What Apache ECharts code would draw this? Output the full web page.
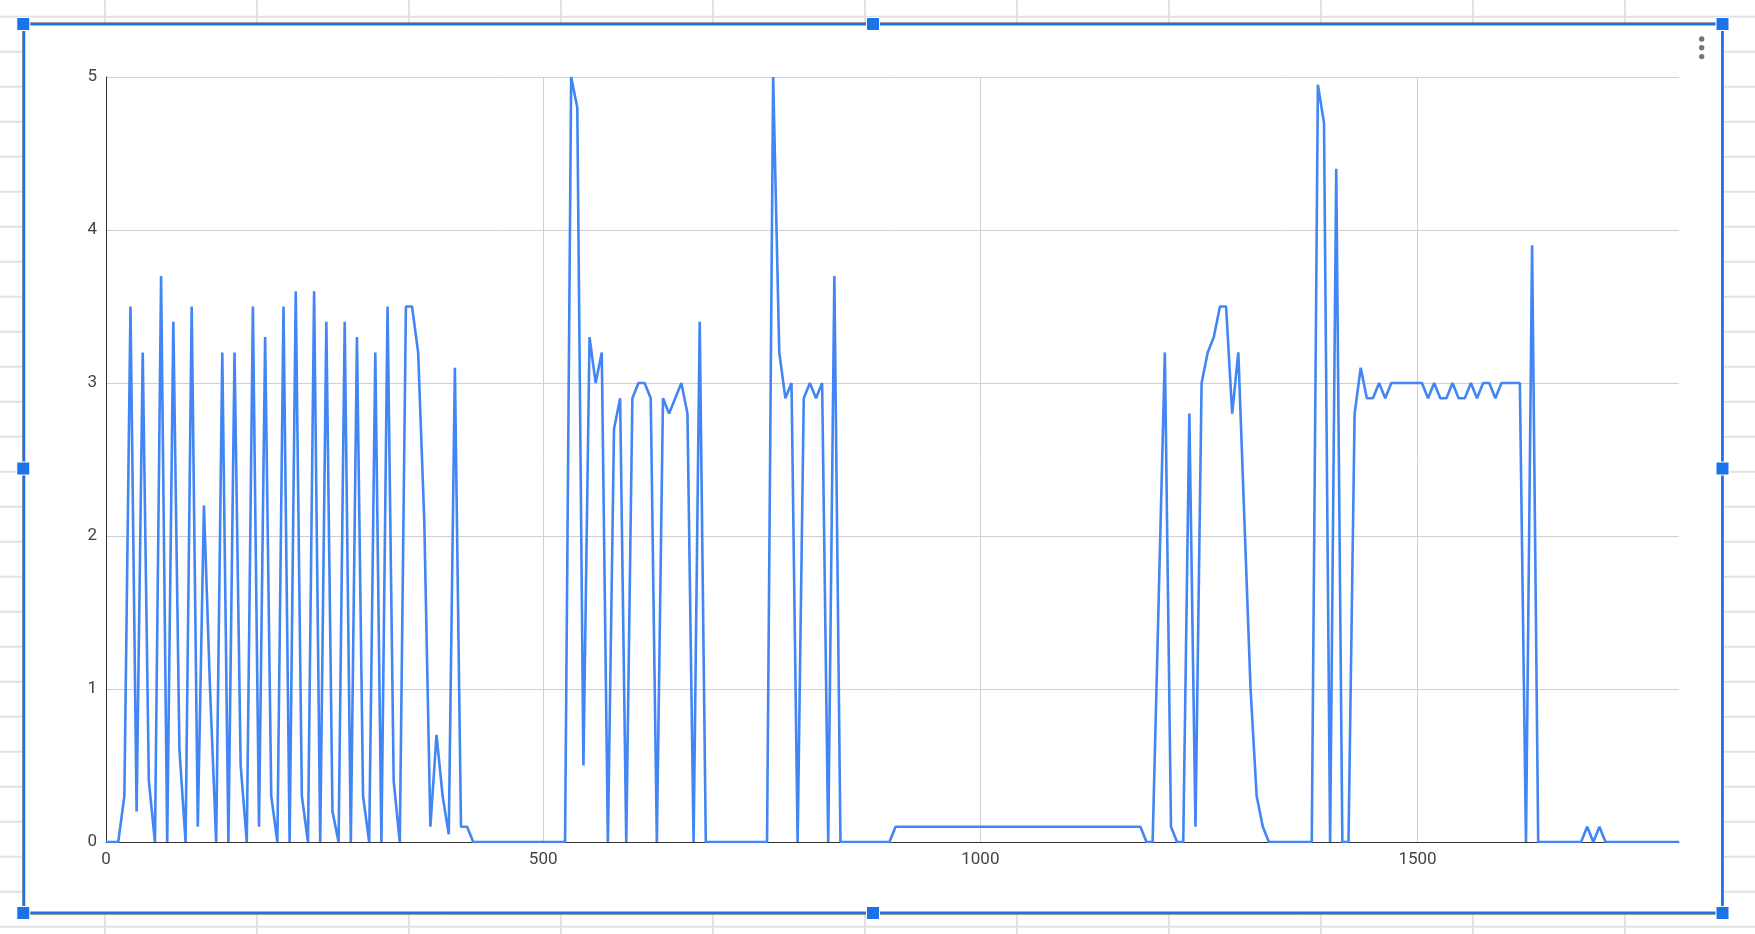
<!DOCTYPE html>
<html>
<head>
<meta charset="utf-8">
<script src="https://cdn.jsdelivr.net/npm/echarts@6/dist/echarts.min.js"></script>
<style>
html,body{margin:0;padding:0;background:#fff;}
#chart{width:1755px;height:934px;}
</style>
</head>
<body>
<div id="chart"></div>
<script>
const xValues = [
  0,7,14,21,28,35,42,49,56,63,
  70,77,84,91,98,105,112,119,126,133,
  140,147,154,161,168,175,182,189,196,203,
  210,217,224,231,238,245,252,259,266,273,
  280,287,294,301,308,315,322,329,336,343,
  350,357,364,371,378,385,392,399,406,413,
  420,427,434,441,448,455,462,469,476,483,
  490,497,504,511,518,525,532,539,546,553,
  560,567,574,581,588,595,602,609,616,623,
  630,637,644,651,658,665,672,679,686,693,
  700,707,714,721,728,735,742,749,756,763,
  770,777,784,791,798,805,812,819,826,833,
  840,847,854,861,868,875,882,889,896,903,
  910,917,924,931,938,945,952,959,966,973,
  980,987,994,1001,1008,1015,1022,1029,1036,1043,
  1050,1057,1064,1071,1078,1085,1092,1099,1106,1113,
  1120,1127,1134,1141,1148,1155,1162,1169,1176,1183,
  1190,1197,1204,1211,1218,1225,1232,1239,1246,1253,
  1260,1267,1274,1281,1288,1295,1302,1309,1316,1323,
  1330,1337,1344,1351,1358,1365,1372,1379,1386,1393,
  1400,1407,1414,1421,1428,1435,1442,1449,1456,1463,
  1470,1477,1484,1491,1498,1505,1512,1519,1526,1533,
  1540,1547,1554,1561,1568,1575,1582,1589,1596,1603,
  1610,1617,1624,1631,1638,1645,1652,1659,1666,1673,
  1680,1687,1694,1701,1708,1715,1722,1729,1736,1743,
  1750,1757,1764,1771,1778,1785,1792,1799
];
const yValues = [
  0,0,0,0.3,3.5,0.2,3.2,0.4,0,3.7,
  0,3.4,0.6,0,3.5,0.1,2.2,1.0,0,3.2,
  0,3.2,0.5,0,3.5,0.1,3.3,0.3,0,3.5,
  0,3.6,0.3,0,3.6,0,3.4,0.2,0,3.4,
  0,3.3,0.3,0,3.2,0,3.5,0.4,0,3.5,
  3.5,3.2,2.1,0.1,0.7,0.3,0.05,3.1,0.1,0.1,
  0,0,0,0,0,0,0,0,0,0,
  0,0,0,0,0,0,5.0,4.8,0.5,3.3,
  3.0,3.2,0,2.7,2.9,0,2.9,3.0,3.0,2.9,
  0,2.9,2.8,2.9,3.0,2.8,0,3.4,0,0,
  0,0,0,0,0,0,0,0,0,5.0,
  3.2,2.9,3.0,0,2.9,3.0,2.9,3.0,0,3.7,
  0,0,0,0,0,0,0,0,0,0.1,
  0.1,0.1,0.1,0.1,0.1,0.1,0.1,0.1,0.1,0.1,
  0.1,0.1,0.1,0.1,0.1,0.1,0.1,0.1,0.1,0.1,
  0.1,0.1,0.1,0.1,0.1,0.1,0.1,0.1,0.1,0.1,
  0.1,0.1,0.1,0.1,0.1,0.1,0.1,0.1,0.1,0.1,
  0,0,1.6,3.2,0.1,0,0,2.8,0.1,3.0,
  3.2,3.3,3.5,3.5,2.8,3.2,2.1,1.0,0.3,0.1,
  0,0,0,0,0,0,0,0,4.95,4.7,
  0,4.4,0,0,2.8,3.1,2.9,2.9,3.0,2.9,
  3.0,3.0,3.0,3.0,3.0,3.0,2.9,3.0,2.9,2.9,
  3.0,2.9,2.9,3.0,2.9,3.0,3.0,2.9,3.0,3.0,
  3.0,3.0,0,3.9,0,0,0,0,0,0,
  0,0,0.1,0,0.1,0,0,0,0,0,
  0,0,0,0,0,0,0,0
];
const xTickLabels = [0, 500, 1000, 1500];
const yTickLabels = [0, 1, 2, 3, 4, 5];

const W = 1755, H = 934;
const graphics = [];
// spreadsheet background grid
for (let k = 0; k * 152 + 105 < W; k++) {
  const x = 105 + 152 * k;
  graphics.push({type:'line', z:-20, silent:true, shape:{x1:x,y1:0,x2:x,y2:H}, style:{stroke:'#e2e2e2', lineWidth:2}});
}
for (let k = 0; 16.7 + 35 * k < H; k++) {
  const y = 16.7 + 35 * k;
  graphics.push({type:'line', z:-20, silent:true, shape:{x1:0,y1:y,x2:W,y2:y}, style:{stroke:'#e2e2e2', lineWidth:2}});
}
// chart white card
graphics.push({type:'rect', z:-10, silent:true, shape:{x:22,y:23,width:1702,height:892}, style:{fill:'#ffffff'}});
graphics.push({type:'rect', z:50, silent:true, shape:{x:22.5,y:22.5,width:1701,height:892}, style:{fill:null, stroke:'#9a9a9a', lineWidth:1}});
graphics.push({type:'rect', z:51, silent:true, shape:{x:24,y:24.3,width:1698.3,height:888.4}, style:{fill:null, stroke:'#1a73e8', lineWidth:2.5}});
const hx = [23.3, 873, 1722.5], hy = [24, 468.5, 913];
hx.forEach((cx, i) => hy.forEach((cy, j) => {
  if (i === 1 && j === 1) return;
  graphics.push({type:'rect', z:52, silent:true, shape:{x:cx-6.5,y:cy-6.5,width:13,height:13}, style:{fill:'#1a73e8', stroke:'#ffffff', lineWidth:1}});
}));
[39, 47.8, 56.6].forEach(cy => {
  graphics.push({type:'circle', z:52, silent:true, shape:{cx:1701.7, cy:cy, r:2.7}, style:{fill:'#757575'}});
});

const chart = echarts.init(document.getElementById('chart'), null, {renderer:'canvas'});
chart.setOption({
  animation: false,
  backgroundColor: 'transparent',
  grid: {left:106, right:76, top:77, bottom:92, containLabel:false},
  xAxis: {
    type:'value', min: xValues[0], max: xValues[xValues.length-1], interval: 500,
    axisLine: {show:true, onZero:false, lineStyle:{color:'#333333', width:1}},
    axisTick: {show:false},
    axisLabel: {
      color:'#444444', fontFamily:'Roboto', fontSize:17, margin:9,
      showMaxLabel:false,
      formatter: v => (xTickLabels.indexOf(v) >= 0 ? String(v) : '')
    },
    splitLine: {show:true, showMinLine:true, showMaxLine:false, lineStyle:{color:'#d0d0d0', width:1}}
  },
  yAxis: {
    type:'value', min: yTickLabels[0], max: yTickLabels[yTickLabels.length-1], interval: 1,
    axisLine: {show:true, lineStyle:{color:'#333333', width:1}},
    axisTick: {show:false},
    axisLabel: {color:'#444444', fontFamily:'Roboto', fontSize:17, margin:9,
      formatter: v => (yTickLabels.indexOf(v) >= 0 ? String(v) : '')},
    splitLine: {show:true, lineStyle:{color:'#d0d0d0', width:1}}
  },
  series: [{
    type:'line',
    data: xValues.map((x, i) => [x, yValues[i]]),
    showSymbol:false,
    symbol:'none',
    lineStyle:{color:'#4285f4', width:2.6},
    itemStyle:{color:'#4285f4'},
    clip:true,
    z:3
  }],
  graphic: graphics
});
</script>
</body>
</html>
